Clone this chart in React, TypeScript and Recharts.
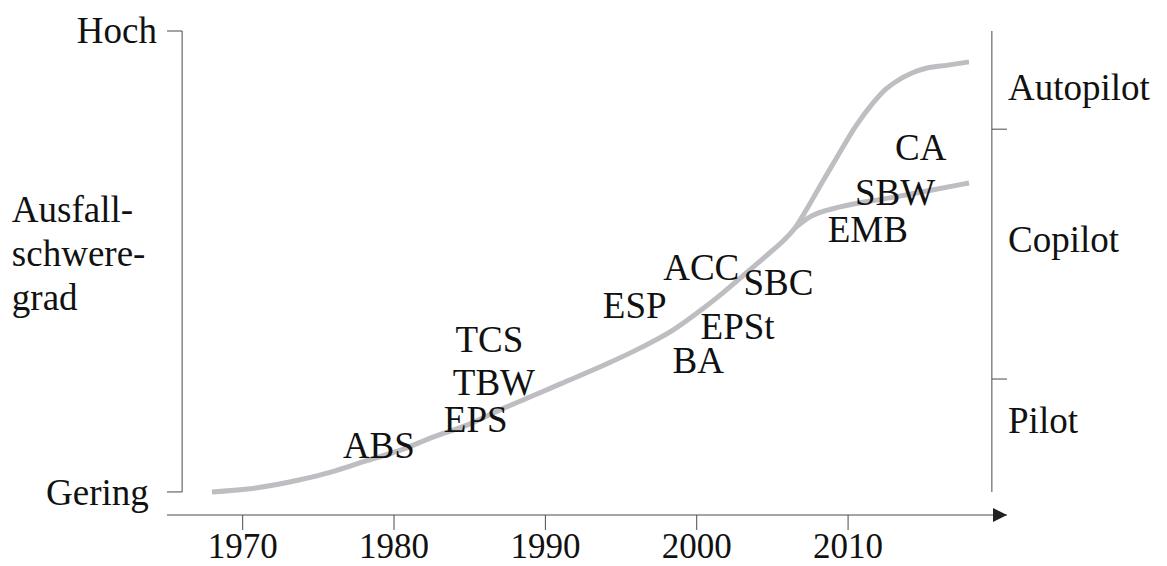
import React from "react";
import { ComposedChart, Line, XAxis, YAxis, ReferenceLine, ReferenceDot } from "recharts";

// main curve up to the autopilot plateau
const autopilotCurve = [
  { year: 1967.97, level: 0 },
  { year: 1970.48, level: 0.69 },
  { year: 1973.79, level: 2.65 },
  { year: 1975.77, level: 4.25 },
  { year: 1978.21, level: 6.8 },
  { year: 1980.39, level: 9.0 },
  { year: 1982.57, level: 11.9 },
  { year: 1984.82, level: 14.5 },
  { year: 1987.0, level: 17.8 },
  { year: 1988.98, level: 20.6 },
  { year: 1990.96, level: 23.4 },
  { year: 1994.07, level: 27.8 },
  { year: 1996.25, level: 31.2 },
  { year: 1998.43, level: 35.1 },
  { year: 2000.22, level: 39.3 },
  { year: 2001.73, level: 43.2 },
  { year: 2003.52, level: 48.2 },
  { year: 2005.04, level: 52.5 },
  { year: 2005.77, level: 54.67 },
  { year: 2006.49, level: 57.27 },
  { year: 2007.35, level: 61.83 },
  { year: 2008.34, level: 67.47 },
  { year: 2009.47, level: 73.76 },
  { year: 2010.52, level: 79.4 },
  { year: 2011.65, level: 84.39 },
  { year: 2012.44, level: 87.21 },
  { year: 2013.23, level: 89.16 },
  { year: 2014.22, level: 90.9 },
  { year: 2015.21, level: 91.98 },
  { year: 2016.6, level: 92.6 },
  { year: 2017.99, level: 93.3 },
];

// branch that levels off at copilot
const copilotCurve = [
  { year: 2006.49, level: 57.27 },
  { year: 2007.48, level: 59.66 },
  { year: 2009.47, level: 61.83 },
  { year: 2012.77, level: 63.79 },
  { year: 2015.21, level: 65.3 },
  { year: 2017.99, level: 67.04 },
];

const systems = [
  { name: "ABS", year: 1979.0, level: 7.4 },
  { name: "EPS", year: 1985.4, level: 13.0 },
  { name: "TBW", year: 1986.6, level: 21.0 },
  { name: "TCS", year: 1986.3, level: 30.4 },
  { name: "ESP", year: 1995.9, level: 37.7 },
  { name: "ACC", year: 2000.3, level: 46.0 },
  { name: "SBC", year: 2005.4, level: 42.7 },
  { name: "EPSt", year: 2002.7, level: 33.2 },
  { name: "BA", year: 2000.1, level: 25.8 },
  { name: "CA", year: 2014.8, level: 72.0 },
  { name: "SBW", year: 2013.1, level: 62.3 },
  { name: "EMB", year: 2011.3, level: 54.2 },
];

const modes = [
  { name: "Autopilot", level: 85.0 },
  { name: "Copilot", level: 52.1 },
  { name: "Pilot", level: 12.8 },
];
const modeBounds = [78.7, 24.5];

const severity = [
  { name: "Hoch", year: 1964.34, level: 97.4, tick: 100 },
  { name: "Gering", year: 1963.8, level: -2.8, tick: 0 },
];
const titleLines = ["Ausfall-", "schwere-", "grad"];

const yearTicks = [1970, 1980, 1990, 2000, 2010];

const font = "Liberation Serif, DejaVu Serif, Noto Serif, serif";
const axisColor = "#4a4a4a";
const curveColor = "#bdbdc2";

const label = (text: string, anchor: string) => (p: any) => (
  <text x={p.cx} y={p.cy} textAnchor={anchor} style={{ fontFamily: font }} fontSize={37} fill="#111">
    {text}
  </text>
);

export default function App() {
  return (
    <div style={{ position: "absolute", left: 0, top: 0, fontFamily: font }}>
      <ComposedChart width={1167} height={566} margin={{ top: 31, right: 160, left: 167, bottom: 0 }}>
        <XAxis
          dataKey="year"
          type="number"
          domain={[1965, 2020.5]}
          allowDataOverflow
          ticks={yearTicks}
          height={51}
          tickSize={15}
          tickMargin={3}
          stroke={axisColor}
          tick={{ fontSize: 35, fill: "#111", style: { fontFamily: font } }}
        />
        <YAxis hide type="number" domain={[-5, 100]} allowDataOverflow />

        {/* left severity axis */}
        <ReferenceLine ifOverflow="visible" stroke={axisColor} segment={[{ x: 1966, y: 0 }, { x: 1966, y: 100 }]} />
        {severity.map((s) => (
          <ReferenceLine
            key={s.name}
            ifOverflow="visible"
            stroke={axisColor}
            segment={[{ x: 1965, y: s.tick }, { x: 1966, y: s.tick }]}
          />
        ))}
        {severity.map((s) => (
          <ReferenceDot key={s.name} x={s.year} y={s.level} r={0} ifOverflow="visible" shape={label(s.name, "end")} />
        ))}
        <ReferenceDot
          x={1954.75}
          y={58.6}
          r={0}
          ifOverflow="visible"
          shape={(p: any) => (
            <text x={p.cx} y={p.cy} style={{ fontFamily: font }} fontSize={37} fill="#111">
              {titleLines.map((t, i) => (
                <tspan key={t} x={p.cx} dy={i === 0 ? 0 : 44}>
                  {t}
                </tspan>
              ))}
            </text>
          )}
        />

        {/* right mode axis */}
        <ReferenceLine ifOverflow="visible" stroke={axisColor} segment={[{ x: 2019.5, y: 0 }, { x: 2019.5, y: 100 }]} />
        {modeBounds.map((b) => (
          <ReferenceLine
            key={b}
            ifOverflow="visible"
            stroke={axisColor}
            segment={[{ x: 2019.5, y: b }, { x: 2020.5, y: b }]}
          />
        ))}
        {modes.map((m) => (
          <ReferenceDot key={m.name} x={2020.57} y={m.level} r={0} ifOverflow="visible" shape={label(m.name, "start")} />
        ))}

        {/* arrow head on time axis */}
        <ReferenceDot
          x={2020.5}
          y={-5}
          r={0}
          ifOverflow="visible"
          shape={(p: any) => (
            <polygon points={`${p.cx},${p.cy} ${p.cx - 14},${p.cy - 7} ${p.cx - 14},${p.cy + 7}`} fill="#222" />
          )}
        />

        <Line
          data={autopilotCurve}
          dataKey="level"
          type="monotone"
          stroke={curveColor}
          strokeWidth={5}
          dot={false}
          isAnimationActive={false}
        />
        <Line
          data={copilotCurve}
          dataKey="level"
          type="monotone"
          stroke={curveColor}
          strokeWidth={5}
          dot={false}
          isAnimationActive={false}
        />

        {systems.map((s) => (
          <ReferenceDot key={s.name} x={s.year} y={s.level} r={0} ifOverflow="visible" shape={label(s.name, "middle")} />
        ))}
      </ComposedChart>
    </div>
  );
}
